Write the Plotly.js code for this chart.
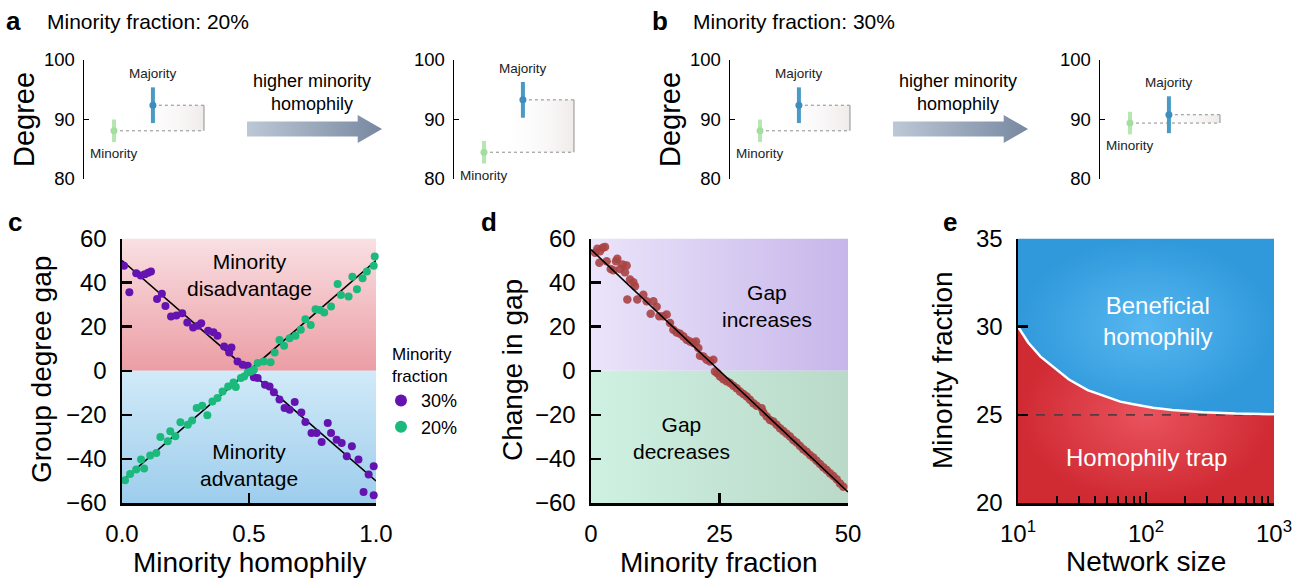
<!DOCTYPE html>
<html>
<head>
<meta charset="utf-8">
<script src="https://cdn.plot.ly/plotly-3.0.1.min.js"></script>
<style>html,body{margin:0;padding:0;background:#fff;}#chart{width:1305px;height:582px;}</style>
</head>
<body>
<div id="chart"></div>
<script>
// ---------------- DATA ----------------
// Panel a/b : mean degree (with spread) of minority and majority groups
const groups = ['Minority', 'Majority'];
const a20LowMean = [88.1, 92.4];
const a20LowErr = [1.9, 3.0];
const a20HighMean = [84.5, 93.3];
const a20HighErr = [1.9, 3.0];
const b30LowMean = [88.1, 92.4];
const b30LowErr = [1.9, 3.0];
const b30HighMean = [89.4, 90.8];
const b30HighErr = [1.9, 3.1];

// Panel c : group degree gap vs minority homophily
const c30x = [0.008,0.029,0.056,0.074,0.090,0.103,0.114,0.138,0.157,0.171,0.193,0.214,0.237,0.257,0.280,0.299,0.312,0.339,0.360,0.376,0.402,0.431,0.422,0.455,0.475,0.495,0.519,0.534,0.563,0.581,0.598,0.620,0.640,0.660,0.680,0.706,0.722,0.746,0.766,0.786,0.810,0.823,0.845,0.865,0.885,0.905,0.931,0.971,0.991,0.951,0.991];
const c30y = [47.6,35.6,44.2,43.2,43.8,44.5,45.0,32.6,34.9,29.4,24.6,25.1,26.1,21.9,19.6,20.4,21.6,18.1,17.5,15.9,11.0,10.6,8.3,4.2,2.7,2.3,-3.0,-3.3,-6.3,-7.1,-9.7,-13.1,-16.9,-17.7,-14.2,-18.9,-23.3,-28.2,-28.2,-32.3,-23.7,-28.2,-31.3,-32.8,-38.8,-34.3,-40.3,-47.1,-43.3,-55.0,-56.5];
const c20x = [0.012,0.032,0.056,0.075,0.087,0.111,0.135,0.151,0.180,0.190,0.210,0.230,0.259,0.276,0.294,0.316,0.336,0.356,0.376,0.396,0.418,0.439,0.448,0.468,0.481,0.495,0.508,0.519,0.534,0.558,0.585,0.601,0.620,0.638,0.660,0.683,0.704,0.722,0.743,0.762,0.779,0.796,0.823,0.849,0.862,0.892,0.907,0.925,0.947,0.964,0.991,0.995];
const c20y = [-49.7,-46.8,-44.8,-40.3,-44.4,-38.5,-37.3,-30.0,-32.0,-27.5,-29.7,-23.4,-24.5,-22.6,-16.9,-15.9,-20.2,-13.9,-12.4,-9.4,-7.1,-5.3,-7.4,-3.3,-2.6,-0.8,-0.3,0.5,3.5,4.2,3.8,8.3,14.0,11.3,14.8,15.9,18.6,23.4,20.8,27.9,27.6,26.4,29.1,39.4,34.4,33.7,42.7,37.0,42.0,45.0,47.6,51.8];
const cFitX = [0, 1];
const c30Fit = [50, -50];
const c20Fit = [-50, 50];

// Panel d : change in gap vs minority fraction
const dX = [0.78,1.23,1.75,2.27,2.72,1.62,3.05,3.83,4.35,4.86,5.12,5.64,6.16,6.94,6.61,7.59,8.24,8.56,7.07,9.01,10.18,10.83,11.61,12.13,12.78,13.29,14.07,14.72,15.37,16.02,16.67,17.32,17.96,18.61,19.26,19.91,20.43,20.88,21.21,21.85,22.5,23.15,23.8,24.12,24.58,25.1,25.75,26.39,27.04,27.69,28.34,28.99,29.64,30.29,30.93,31.58,32.23,33.2,33.53,34.18,34.82,35.47,36.12,36.77,37.42,38.07,38.72,39.36,40.01,40.66,41.31,41.96,42.61,43.25,43.9,44.55,45.2,45.85,46.5,47.15,47.8,48.44,49.09];
const dY = [53.5,55.3,54.2,55.8,56.2,49.0,49.7,46.2,45.6,49.7,50.8,46.2,48.2,47.7,44.7,41.4,40.2,38.3,32.3,32.3,34.5,31.5,25.9,31.5,29.0,24.7,24.7,25.5,21.7,18.6,17.4,16.8,15.6,14.1,13.3,12.6,13.3,10.3,6.8,6.5,5.0,4.2,5.0,-0.3,-1.1,-2.6,-3.8,-4.8,-5.6,-6.8,-7.9,-9.4,-10.5,-11.7,-13.2,-14.7,-15.9,-17.0,-18.9,-20.8,-22.3,-23.0,-24.5,-26.1,-27.3,-28.6,-29.8,-31.4,-32.6,-34.1,-35.6,-36.7,-38.2,-39.4,-40.8,-42.3,-43.8,-45.0,-46.5,-47.7,-49.2,-51.1,-52.6];
const dFitX = [0, 50];
const dFitY = [55, -55];

// Panel e : critical minority fraction vs network size
const networkSize = [10,12,15,19,25,35,50,63,80,113,160,280,500,1000];
const critFraction = [30.0,29.1,28.3,27.7,27.0,26.4,26.0,25.75,25.6,25.4,25.28,25.15,25.07,25.03];
const trapLevel = 25;

// ---------------- LAYOUT HELPERS ----------------
const W = 1305, H = 582;
const FONT = 'Liberation Sans, Arial, Helvetica, sans-serif';
const dxr = (l, r) => [l / W, r / W];
const dyr = (t, b) => [1 - b / H, 1 - t / H];

function region(xs, ys, xa, ya, type, cs) {
  return {type: 'scatter', x: xs, y: ys, xaxis: xa, yaxis: ya, mode: 'none', fill: 'toself',
    fillgradient: {type: type, colorscale: cs}, hoverinfo: 'skip', showlegend: false};
}
function line(xs, ys, xa, ya, color, width, dash) {
  return {type: 'scatter', mode: 'lines', x: xs, y: ys, xaxis: xa, yaxis: ya,
    line: {color: color, width: width, dash: dash || 'solid'}, hoverinfo: 'skip', showlegend: false, cliponaxis: false};
}

const traces = [];
const annotations = [];

// ---------- Panel c ----------
traces.push(region([0,1,1,0], [0,0,60,60], 'x', 'y', 'vertical', [[0,'#eb9da4'],[1,'#f9e0e3']]));
traces.push(region([0,1,1,0], [-60,-60,0,0], 'x', 'y', 'vertical', [[0,'#9dcdec'],[1,'#d1eaf8']]));
traces.push(line(cFitX, c30Fit, 'x', 'y', '#000', 1.6));
traces.push(line(cFitX, c20Fit, 'x', 'y', '#000', 1.6));
traces.push({type:'scatter', mode:'markers', name:'30%', x:c30x, y:c30y, xaxis:'x', yaxis:'y',
  marker:{color:'#6513b0', size:8}, cliponaxis:false});
traces.push({type:'scatter', mode:'markers', name:'20%', x:c20x, y:c20y, xaxis:'x', yaxis:'y',
  marker:{color:'#1bb97c', size:8}, cliponaxis:false});

// ---------- Panel d ----------
traces.push(region([0,50,50,0], [0,0,60,60], 'x2', 'y2', 'horizontal', [[0,'#ebe4fa'],[1,'#c7b6ea']]));
traces.push(region([0,50,50,0], [-60,-60,0,0], 'x2', 'y2', 'horizontal', [[0,'#cef1e1'],[1,'#bad9c9']]));
traces.push({type:'scatter', mode:'markers', x:dX, y:dY, xaxis:'x2', yaxis:'y2', showlegend:false,
  marker:{color:'#a84242', size:8.5, opacity:0.9}, cliponaxis:false});
traces.push(line(dFitX, dFitY, 'x2', 'y2', '#000', 1.6));

// ---------- Panel e ----------
const nMin = networkSize[0], nMax = networkSize[networkSize.length - 1];
traces.push(region(networkSize.concat([nMax, nMin]), critFraction.concat([35, 35]), 'x3', 'y3', 'radial',
  [[0,'#56b7f0'],[1,'#3099db']]));
traces.push(region(networkSize.concat([nMax, nMin]), critFraction.concat([20, 20]), 'x3', 'y3', 'radial',
  [[0,'#e9535d'],[1,'#d02a33']]));
traces.push(line([nMin, nMax], [trapLevel, trapLevel], 'x3', 'y3', '#5a3a3e', 1.6, 'dash'));
traces.push(line(networkSize, critFraction, 'x3', 'y3', '#ffffff', 2.5));

// ---------- Mini charts (a, b) ----------
const gapStart = 0.36, gapEnd = 2.31;
const minis = [
  {ax: '4', mean: a20LowMean, err: a20LowErr},
  {ax: '5', mean: a20HighMean, err: a20HighErr},
  {ax: '6', mean: b30LowMean, err: b30LowErr},
  {ax: '7', mean: b30HighMean, err: b30HighErr}
];
minis.forEach(m => {
  const xa = 'x' + m.ax, ya = 'y' + m.ax;
  const lo = m.mean[0], hi = m.mean[1];
  traces.push(region([gapStart, gapEnd, gapEnd, gapStart], [lo, lo, hi, hi], xa, ya, 'horizontal',
    [[0,'rgba(255,255,255,0)'],[1,'#f0ebeb']]));
  traces.push(line([0, gapEnd], [lo, lo], xa, ya, '#8c8c8c', 1, 'dot'));
  traces.push(line([1, gapEnd], [hi, hi], xa, ya, '#8c8c8c', 1, 'dot'));
  traces.push(line([gapEnd, gapEnd], [lo, hi], xa, ya, '#b0b0b0', 1.5));
  const cols = ['#b5e8b1', '#4a9ac6'];
  const dots = ['#a3dd9f', '#3e8dbd'];
  [0, 1].forEach(i => {
    traces.push({type:'scatter', mode:'markers', x:[i], y:[m.mean[i]], xaxis:xa, yaxis:ya, showlegend:false,
      marker:{color:dots[i], size:7},
      error_y:{type:'data', array:[m.err[i]], visible:true, thickness:4, width:0, color:cols[i]}, cliponaxis:false});
    annotations.push({xref:xa, yref:ya, x:i, y:m.mean[i] + (i === 1 ? m.err[i] : -m.err[i]),
      yanchor: i === 1 ? 'bottom' : 'top', yshift: i === 1 ? 4 : -2, showarrow:false,
      text: groups[i], font:{size:13.5, color:'#222', family:FONT}});
  });
});

// ---------- Arrows ----------
const arrowX = [0, 0.82, 0.82, 1, 0.82, 0.82, 0];
const arrowY = [-0.27, -0.27, -0.5, 0, 0.5, 0.27, 0.27];
['8', '9'].forEach(k => {
  traces.push(region(arrowX, arrowY, 'x' + k, 'y' + k, 'horizontal', [[0,'#bdc8d6'],[1,'#7788a0']]));
});

// ---------- Axes ----------
const tickFont = {size: 24, color: '#000', family: FONT};
const mainAx = {showgrid:false, zeroline:false, showline:true, linecolor:'#000', linewidth:2.5,
  ticks:'inside', ticklen:10, tickwidth:2.5, tickcolor:'#000', tickfont:tickFont, ticklabelstandoff:8, fixedrange:true};
const miniY = {showgrid:false, zeroline:false, showline:true, linecolor:'#000', linewidth:1.5,
  ticks:'inside', ticklen:5, tickwidth:1.5, tickcolor:'#000', range:[80,100], tickvals:[80,90,100],
  tickfont:{size:18.5, color:'#000', family:FONT}, ticklabelstandoff:4, fixedrange:true};
const miniX = {visible:false, range:[-0.77, 2.62], fixedrange:true};
const hidden = {visible:false, fixedrange:true};

const panelTop = 238.5, panelBottom = 503;
const layout = {
  width: W, height: H,
  margin: {l:0, r:0, t:0, b:0},
  paper_bgcolor: '#fff', plot_bgcolor: 'rgba(0,0,0,0)',
  font: {family: FONT, color: '#000'},
  showlegend: true,
  legend: {x: 381 / W, y: 1 - 338 / H, xanchor: 'left', yanchor: 'top',
    bgcolor: 'rgba(0,0,0,0)', font: {size: 18, family: FONT},
    title: {text: 'Minority<br>fraction', side: 'top center', font: {size: 17, family: FONT}},
    itemsizing: 'constant', tracegroupgap: 0},
  xaxis: Object.assign({}, mainAx, {domain: dxr(122, 376), range: [0, 1], tickvals: [0, 0.5, 1], ticktext: ['0.0', '0.5', '1.0'], anchor: 'y'}),
  yaxis: Object.assign({}, mainAx, {domain: dyr(panelTop, panelBottom), range: [-60, 60], tickvals: [-60,-40,-20,0,20,40,60], anchor: 'x'}),
  xaxis2: Object.assign({}, mainAx, {domain: dxr(591, 848), range: [0, 50], tickvals: [0, 25, 50], anchor: 'y2'}),
  yaxis2: Object.assign({}, mainAx, {domain: dyr(panelTop, panelBottom), range: [-60, 60], tickvals: [-60,-40,-20,0,20,40,60], anchor: 'x2'}),
  xaxis3: Object.assign({}, mainAx, {domain: dxr(1018, 1274), type: 'log', range: [1, 3], tickvals: [10, 100, 1000],
    ticktext: ['10<sup>1</sup>', '10<sup>2</sup>', '10<sup>3</sup>'], ticklen: 11, anchor: 'y3',
    minor: {tickvals: [20,30,40,50,60,70,80,90,200,300,400,500,600,700,800,900], ticks: 'inside', ticklen: 7, tickwidth: 2, tickcolor: '#000', showgrid: false}}),
  yaxis3: Object.assign({}, mainAx, {domain: dyr(panelTop, panelBottom), range: [20, 35], tickvals: [20, 25, 30, 35], anchor: 'x3'}),
  xaxis4: Object.assign({}, miniX, {domain: dxr(84, 216), anchor: 'y4'}),
  yaxis4: Object.assign({}, miniY, {domain: dyr(60, 179), anchor: 'x4'}),
  xaxis5: Object.assign({}, miniX, {domain: dxr(454, 586), anchor: 'y5'}),
  yaxis5: Object.assign({}, miniY, {domain: dyr(60, 179), anchor: 'x5'}),
  xaxis6: Object.assign({}, miniX, {domain: dxr(730, 862), anchor: 'y6'}),
  yaxis6: Object.assign({}, miniY, {domain: dyr(60, 179), anchor: 'x6'}),
  xaxis7: Object.assign({}, miniX, {domain: dxr(1100, 1232), anchor: 'y7'}),
  yaxis7: Object.assign({}, miniY, {domain: dyr(60, 179), anchor: 'x7'}),
  xaxis8: Object.assign({}, hidden, {domain: dxr(247, 382), range: [0, 1], anchor: 'y8'}),
  yaxis8: Object.assign({}, hidden, {domain: dyr(115, 143), range: [-0.5, 0.5], anchor: 'x8'}),
  xaxis9: Object.assign({}, hidden, {domain: dxr(893, 1028), range: [0, 1], anchor: 'y9'}),
  yaxis9: Object.assign({}, hidden, {domain: dyr(115, 143), range: [-0.5, 0.5], anchor: 'x9'}),
  annotations: annotations
};

function paperText(text, px, py, size, opts) {
  annotations.push(Object.assign({xref:'paper', yref:'paper', x:px / W, y:1 - py / H, text:text, showarrow:false,
    xanchor:'center', yanchor:'middle', font:{size:size, family:FONT, color:'#000'}}, opts || {}));
}
// Panel letters & headings
paperText('<b>a</b>', 14, 21, 26);
paperText('Minority fraction: 20%', 45, 22, 21, {xanchor:'left'});
paperText('<b>b</b>', 660, 21, 26);
paperText('Minority fraction: 30%', 691, 22, 21, {xanchor:'left'});
paperText('<b>c</b>', 15, 222, 26);
paperText('<b>d</b>', 489, 222, 26);
paperText('<b>e</b>', 950, 222, 26);
// Degree titles
paperText('Degree', 24, 120, 29, {textangle:-90});
paperText('Degree', 670, 120, 29, {textangle:-90});
// Arrow captions
paperText('higher minority<br>homophily', 312, 92, 18);
paperText('higher minority<br>homophily', 958, 92, 18);
// Axis titles
paperText('Group degree gap', 41, 370, 28, {textangle:-90});
paperText('Minority homophily', 249, 562, 28);
paperText('Change in gap', 512, 370, 28, {textangle:-90});
paperText('Minority fraction', 719, 562, 28);
paperText('Minority fraction', 942, 370, 28, {textangle:-90});
paperText('Network size', 1146, 561, 28);
// Region labels
paperText('Minority<br>disadvantage', 249, 275, 21);
paperText('Minority<br>advantage', 249, 465, 21);
paperText('Gap<br>increases', 767, 306, 21);
paperText('Gap<br>decreases', 681, 438, 21);
paperText('Beneficial<br>homophily', 1157, 321, 24, {font:{size:24, family:FONT, color:'#fff'}});
paperText('Homophily trap', 1146, 457, 24, {font:{size:24, family:FONT, color:'#fff'}});

Plotly.newPlot('chart', traces, layout, {staticPlot: true, displayModeBar: false});
</script>
</body>
</html>
